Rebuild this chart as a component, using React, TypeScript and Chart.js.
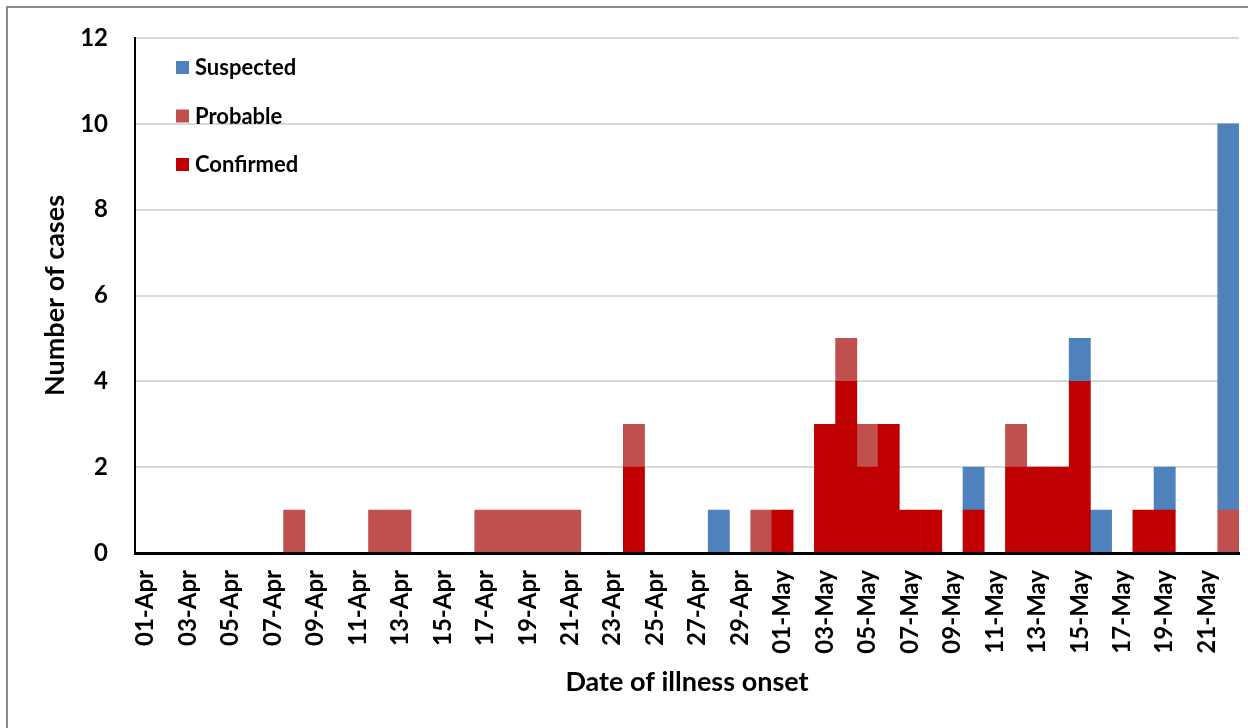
import React, { useEffect, useRef } from "react";
import { Chart, registerables } from "chart.js";

Chart.register(...registerables);

const categories: string[] = [
  "01-Apr", "02-Apr", "03-Apr", "04-Apr", "05-Apr", "06-Apr", "07-Apr", "08-Apr", "09-Apr", "10-Apr",
  "11-Apr", "12-Apr", "13-Apr", "14-Apr", "15-Apr", "16-Apr", "17-Apr", "18-Apr", "19-Apr", "20-Apr",
  "21-Apr", "22-Apr", "23-Apr", "24-Apr", "25-Apr", "26-Apr", "27-Apr", "28-Apr", "29-Apr", "30-Apr",
  "01-May", "02-May", "03-May", "04-May", "05-May", "06-May", "07-May", "08-May", "09-May", "10-May",
  "11-May", "12-May", "13-May", "14-May", "15-May", "16-May", "17-May", "18-May", "19-May", "20-May",
  "21-May", "22-May",
];

const confirmed: number[] = [
  0, 0, 0, 0, 0, 0, 0, 0, 0, 0,
  0, 0, 0, 0, 0, 0, 0, 0, 0, 0,
  0, 0, 0, 2, 0, 0, 0, 0, 0, 0,
  1, 0, 3, 4, 2, 3, 1, 1, 0, 1,
  0, 2, 2, 2, 4, 0, 0, 1, 1, 0,
  0, 0,
];

const probable: number[] = [
  0, 0, 0, 0, 0, 0, 0, 1, 0, 0,
  0, 1, 1, 0, 0, 0, 1, 1, 1, 1,
  1, 0, 0, 1, 0, 0, 0, 0, 0, 1,
  0, 0, 0, 1, 1, 0, 0, 0, 0, 0,
  0, 1, 0, 0, 0, 0, 0, 0, 0, 0,
  0, 1,
];

const suspected: number[] = [
  0, 0, 0, 0, 0, 0, 0, 0, 0, 0,
  0, 0, 0, 0, 0, 0, 0, 0, 0, 0,
  0, 0, 0, 0, 0, 0, 0, 1, 0, 0,
  0, 0, 0, 0, 0, 0, 0, 0, 0, 1,
  0, 0, 0, 0, 1, 1, 0, 0, 1, 0,
  0, 9,
];

const yTicks: number[] = [0, 2, 4, 6, 8, 10, 12];

const seriesNames = { suspected: "Suspected", probable: "Probable", confirmed: "Confirmed" };
const colors = { suspected: "#4F81BD", probable: "#C0504D", confirmed: "#C00000" };

const FONT = "Lato, 'Open Sans', sans-serif";

const nz = (arr: number[]) => arr.map((v) => (v === 0 ? null : v));

const legendPlugin = {
  id: "customLegend",
  afterDatasetsDraw(chart: any) {
    const { ctx, chartArea } = chart;
    ctx.save();
    ctx.strokeStyle = "#000";
    ctx.lineWidth = 3;
    ctx.beginPath();
    ctx.moveTo(chartArea.left - 1, chartArea.bottom + 0.5);
    ctx.lineTo(chartArea.right, chartArea.bottom + 0.5);
    ctx.stroke();
    ctx.restore();
  },
  afterDraw(chart: any) {
    const { ctx, chartArea } = chart;
    const items = [...chart.data.datasets].reverse();
    ctx.save();
    ctx.font = `bold 22px ${FONT}`;
    ctx.textBaseline = "middle";
    ctx.textAlign = "left";
    items.forEach((ds: any, i: number) => {
      const x = chartArea.left + 41;
      const y = chartArea.top + 23 + i * 48.5;
      ctx.fillStyle = ds.backgroundColor;
      ctx.fillRect(x, y, 13, 13);
      ctx.fillStyle = "#000";
      ctx.fillText(ds.label, x + 19, y + 7);
    });
    ctx.restore();
  },
};

export default function App() {
  const canvasRef = useRef<HTMLCanvasElement | null>(null);

  useEffect(() => {
    const canvas = canvasRef.current;
    if (!canvas) return;
    const chart = new Chart(canvas, {
      type: "bar",
      data: {
        labels: categories,
        datasets: [
          { label: seriesNames.confirmed, data: nz(confirmed), backgroundColor: colors.confirmed, borderWidth: 0 },
          { label: seriesNames.probable, data: nz(probable), backgroundColor: colors.probable, borderWidth: 0 },
          { label: seriesNames.suspected, data: nz(suspected), backgroundColor: colors.suspected, borderWidth: 0 },
        ],
      },
      options: {
        responsive: false,
        animation: false,
        devicePixelRatio: 1,
        layout: { padding: { left: 0, right: 9, top: 38, bottom: 0 } },
        datasets: { bar: { barPercentage: 1, categoryPercentage: 1 } },
        plugins: {
          legend: { display: false },
          tooltip: { enabled: false },
          title: { display: false },
        },
        scales: {
          x: {
            stacked: true,
            grid: {
              display: true,
              drawOnChartArea: false,
              drawTicks: true,
              tickLength: 17,
              tickColor: "rgba(0,0,0,0)",
              color: "rgba(0,0,0,0)",
            },
            border: { display: true, color: "#000", width: 3 },
            ticks: {
              autoSkip: false,
              maxRotation: 90,
              minRotation: 90,
              padding: 0,
              color: "#000",
              font: { family: FONT, size: 24, weight: "bold" },
              callback: (_v: any, i: number) => (i % 2 === 0 ? categories[i] : null),
            },
            title: {
              display: true,
              text: "Date of illness onset",
              color: "#000",
              font: { family: FONT, size: 27, weight: "bold" },
              padding: { top: 0, bottom: 30 },
            },
            afterFit: (scale: any) => {
              scale.height = 728 - 553;
            },
          },
          y: {
            stacked: true,
            min: 0,
            max: 12,
            afterBuildTicks: (scale: any) => {
              scale.ticks = yTicks.map((v) => ({ value: v }));
            },
            grid: {
              drawTicks: true,
              tickLength: 27,
              tickColor: "rgba(0,0,0,0)",
              lineWidth: 2,
              color: (ctx: any) => (ctx.tick && ctx.tick.value === 0 ? "rgba(0,0,0,0)" : "#D9D9D9"),
            },
            border: { display: true, color: "#000", width: 2 },
            ticks: {
              padding: 0,
              color: "#000",
              font: { family: FONT, size: 24, weight: "bold" },
            },
            title: {
              display: true,
              text: "Number of cases",
              color: "#000",
              font: { family: FONT, size: 27, weight: "bold" },
              padding: { top: 39, bottom: 0 },
            },
            afterFit: (scale: any) => {
              scale.width = 135;
            },
          },
        },
      },
      plugins: [legendPlugin],
    });
    return () => chart.destroy();
  }, []);

  return (
    <>
      <canvas
        ref={canvasRef}
        width={1248}
        height={728}
        style={{ position: "fixed", left: 0, top: 0, width: 1248, height: 728 }}
      />
      <div
        style={{
          position: "fixed",
          left: 6,
          top: 6,
          width: 1260,
          height: 740,
          borderTop: "2px solid #8a8a8a",
          borderLeft: "2px solid #8a8a8a",
          pointerEvents: "none",
        }}
      />
    </>
  );
}
